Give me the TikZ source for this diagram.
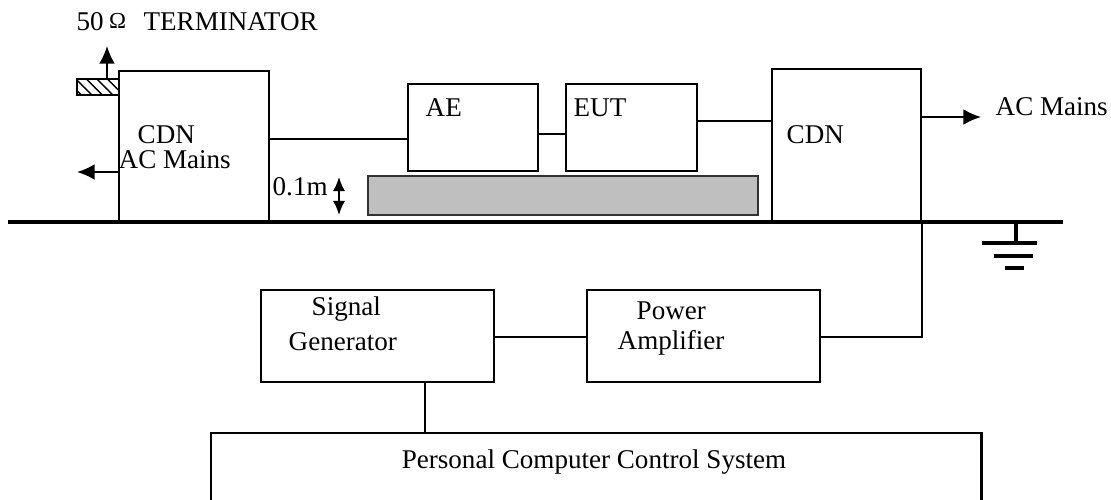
\documentclass[tikz,border=0pt]{standalone}
\usepackage{fontspec}
\setmainfont{Liberation Serif}
\usetikzlibrary{arrows.meta,patterns}

\begin{document}
\begin{tikzpicture}[x=0.01cm, y=-0.01cm, line join=miter,
    font=\fontsize{7.7}{9}\selectfont]
  \tikzset{
    box/.style={draw, line width=0.6pt, anchor=north west, inner sep=0pt},
    wire/.style={line width=0.6pt},
    lbl/.style={inner sep=0pt, anchor=west},
    tip/.style={-{Latex[length=5pt,width=4.5pt]}}
  }
  \useasboundingbox (0,0) rectangle (1111,499);
  % ground plane
  \coordinate (gndL) at (8,222);
  \coordinate (gndR) at (1063,222);
  \draw[line width=1.1pt] (gndL) -- (gndR);
  % boxes
  \node[box, minimum width=1.50cm, minimum height=1.52cm] (cdnL) at (118,70) {};
  \node[box, minimum width=1.30cm, minimum height=0.87cm] (ae) at (407,83) {};
  \node[box, minimum width=1.31cm, minimum height=0.87cm] (eut) at (565,83) {};
  \node[box, minimum width=1.49cm, minimum height=1.54cm] (cdnR) at (771,68) {};
  \node[box, fill=gray!50, draw=black!80, minimum width=3.90cm, minimum height=0.39cm] (table) at (367,175) {};
  \node[box, minimum width=2.33cm, minimum height=0.92cm] (sg) at (260,289) {};
  \node[box, minimum width=2.33cm, minimum height=0.92cm] (pa) at (586,289) {};
  \node[box, minimum width=7.70cm, minimum height=0.90cm] (pc) at (210,432) {};
  \node[box, pattern=north west lines, minimum width=0.42cm, minimum height=0.16cm] (term) at (76,78) {};
  % labels
  \node[lbl] (termlbl) at (76,22) {50\hspace{1.5pt}\raisebox{0.8pt}{\fontsize{6.5}{7}\selectfont Ω}\hspace{5pt}TERMINATOR};
  \node[lbl] (cdnLlbl) at (137,135) {CDN};
  \node[lbl] (acL) at (118,160) {AC Mains};
  \node[lbl] (gap) at (272,187) {0.1m};
  \node[lbl] (aelbl) at (425,108) {AE};
  \node[lbl] (eutlbl) at (573,108) {EUT};
  \node[lbl] (cdnRlbl) at (786,135) {CDN};
  \node[lbl] (acR) at (995,107) {AC Mains};
  \node[lbl] (sglbl1) at (311,309) {Signal};
  \node[lbl] (sglbl2) at (288,342) {Generator};
  \node[lbl] (palbl1) at (636,311) {Power};
  \node[lbl] (palbl2) at (617,343) {Amplifier};
  \node[inner sep=0pt] (pclbl) at (594,462) {Personal Computer Control System};
  % connectors
  \draw[wire] (cdnL.east |- 0,139) -- (ae.west |- 0,139);
  \draw[wire] (ae.east |- 0,134) -- (eut.west |- 0,134);
  \draw[wire] (eut.east |- 0,121) -- (cdnR.west |- 0,121);
  \coordinate (acEnd) at (981,117);
  \draw[wire, tip] (cdnR.east |- acEnd) -- (acEnd);
  \coordinate (acLEnd) at (77,172);
  \draw[wire, tip] (cdnL.west |- acLEnd) -- (acLEnd);
  \coordinate (termEnd) at (107,46);
  \draw[wire, tip] (term.north -| termEnd) -- (termEnd);
  \draw[wire, {Latex[length=4pt,width=3.5pt]}-{Latex[length=4pt,width=3.5pt]}] (339,177) -- (339,215);
  \draw[wire] (sg.east |- 0,337) -- (pa.west |- 0,337);
  \draw[wire] (pa.east |- 0,337) -| (cdnR.south east);
  \draw[wire] (sg.south -| 425,0) -- (pc.north -| 425,0);
  % earth symbol
  \coordinate (earth) at (1016,222);
  \draw[line width=0.9pt] (earth) -- ++(0,21);
  \draw[line width=1.3pt] (982,243) -- (1037,243)
    (994,256) -- (1033,256)
    (1005,268) -- (1024,268);
\end{tikzpicture}
\end{document}
